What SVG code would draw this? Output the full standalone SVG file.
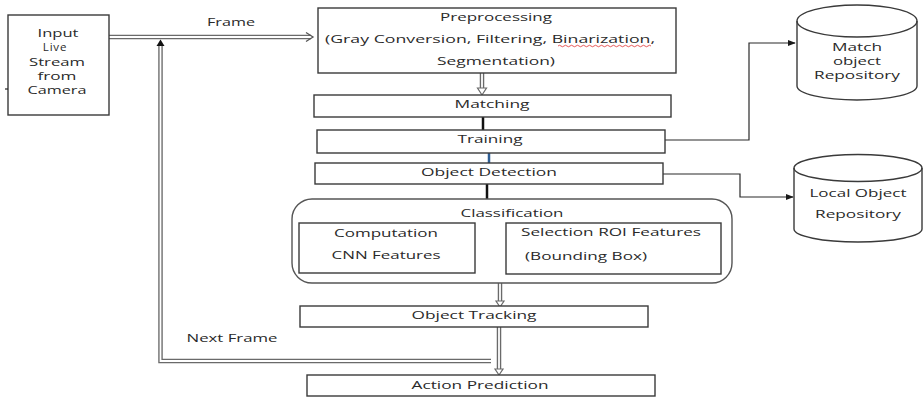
<svg xmlns="http://www.w3.org/2000/svg" width="924" height="398" viewBox="0 0 924 398">
<defs>
<style>
text{font-family:"Open Sans","Liberation Sans",sans-serif;font-size:10.8px;fill:#2a2a2a;text-anchor:middle;}
.l{text-anchor:start;}
.box{fill:#fff;stroke:#3a3a3a;stroke-width:1.4;}
.dblo{fill:none;stroke:#6a6a6a;stroke-width:4.5;}
.dbli{fill:none;stroke:#fff;stroke-width:1.8;}
.thin{fill:none;stroke:#2a2a2a;stroke-width:1.2;}
.hollow{fill:#fff;stroke:#6a6a6a;stroke-width:1.2;}
</style>
<marker id="ah" viewBox="0 0 10 10" refX="9" refY="5" markerWidth="8" markerHeight="8" markerUnits="userSpaceOnUse" orient="auto">
<path d="M0,1 L10,5 L0,9 Z" fill="#1a1a1a"/>
</marker>
<marker id="ahb" viewBox="0 0 10 10" refX="9" refY="5" markerWidth="6" markerHeight="6" markerUnits="userSpaceOnUse" orient="auto">
<path d="M0,1 L10,5 L0,9 Z" fill="#1f3a5f"/>
</marker>
</defs>
<rect width="924" height="398" fill="#fff"/>

<g id="connectors">
<!-- Frame -->
<path class="dblo" d="M109,37 H311"/>
<path class="dbli" d="M109,37 H312"/>
<polyline points="306,32.5 313,37 306,41.5" fill="none" stroke="#555" stroke-width="1.3"/>
<text x="231" y="26" textLength="48" lengthAdjust="spacingAndGlyphs">Frame</text>
<!-- feedback Next Frame -->
<path class="dblo" d="M160.5,45 V361 H491"/>
<path class="dbli" d="M160.5,45 V361 H491"/>
<path d="M156.5,46 L160.5,39.5 L164.5,46 Z" fill="#111"/>
<text x="232" y="342" textLength="91" lengthAdjust="spacingAndGlyphs">Next Frame</text>
<!-- Preprocessing -> Matching -->
<path class="dblo" d="M482,73 V88"/>
<path class="dbli" d="M482,73 V89"/>
<path class="hollow" d="M477.5,88 L486.5,88 L482,95 Z"/>
<!-- Matching -> Training -->
<path d="M483,117 V130" stroke="#111" stroke-width="2.5"/>
<!-- Training -> Object Detection -->
<path d="M489,153 V163" stroke="#2f5f95" stroke-width="2.5"/>
<!-- Object Detection -> Classification -->
<path d="M487,184 V199" stroke="#111" stroke-width="2.5"/>
<!-- Training -> Match repository -->
<polyline class="thin" points="665,140 749,140 749,43 795,43" marker-end="url(#ah)"/>
<!-- Object Detection -> Local repository -->
<polyline class="thin" points="663,174 740,174 740,197 793,197" marker-end="url(#ah)"/>
<!-- Computation -> Selection -->
<path d="M475,239 H505" stroke="#1f3a5f" stroke-width="1.5" fill="none" marker-end="url(#ahb)"/>
<!-- Classification -> Object Tracking -->
<path class="dblo" d="M500,282 V302"/>
<path class="dbli" d="M500,282 V303"/>
<path class="hollow" d="M496,301 L504,301 L500,307 Z"/>
<!-- Object Tracking -> Action Prediction -->
<path class="dblo" d="M499,327 V369"/>
<path class="dbli" d="M499,327 V370"/>
<path class="hollow" d="M495,369 L503,369 L499,375 Z"/>
</g>

<g id="input">
<rect class="box" x="8" y="15" width="101" height="100"/>
<line x1="5" y1="89" x2="8" y2="89" stroke="#222" stroke-width="1.2"/>
<text x="58" y="37" textLength="41" lengthAdjust="spacingAndGlyphs">Input</text>
<text x="55" y="51" style="font-size:11.5px;letter-spacing:0.8px">Live</text>
<text x="57" y="66" textLength="56" lengthAdjust="spacingAndGlyphs">Stream</text>
<text x="57" y="80" textLength="39" lengthAdjust="spacingAndGlyphs">from</text>
<text x="57" y="94" textLength="59" lengthAdjust="spacingAndGlyphs">Camera</text>
</g>

<g id="preprocessing">
<rect class="box" x="318" y="8" width="358" height="65"/>
<text x="496" y="21" textLength="112" lengthAdjust="spacingAndGlyphs">Preprocessing</text>
<text x="490" y="43" textLength="330" lengthAdjust="spacingAndGlyphs">(Gray Conversion, Filtering, Binarization,</text>
<path d="M558,46 q1.5,-1.5 3,0 t3,0 t3,0 t3,0 t3,0 t3,0 t3,0 t3,0 t3,0 t3,0 t3,0 t3,0 t3,0 t3,0 t3,0 t3,0 t3,0 t3,0 t3,0 t3,0 t3,0 t3,0 t3,0 t3,0 t3,0 t3,0 t3,0 t3,0 t3,0 t3,0 t3,0" fill="none" stroke="#e03030" stroke-width="0.8"/>
<text x="496" y="65" textLength="118" lengthAdjust="spacingAndGlyphs">Segmentation)</text>
</g>

<g id="matching">
<rect class="box" x="314" y="95" width="357" height="22"/>
<text x="492" y="108" textLength="75" lengthAdjust="spacingAndGlyphs">Matching</text>
</g>

<g id="training">
<rect class="box" x="317" y="130" width="348" height="23"/>
<text x="490" y="143" textLength="65" lengthAdjust="spacingAndGlyphs">Training</text>
</g>

<g id="object-detection">
<rect class="box" x="315" y="163" width="348" height="21"/>
<text x="489" y="176" textLength="136" lengthAdjust="spacingAndGlyphs">Object Detection</text>
</g>

<g id="match-repository">
<path class="box" d="M797,21 A60,16 0 0 1 917,21 V86 A60,14 0 0 1 797,86 Z"/>
<path d="M797,21 A60,16 0 0 0 917,21" fill="none" stroke="#3a3a3a" stroke-width="1.4"/>
<text x="857" y="51" textLength="50" lengthAdjust="spacingAndGlyphs">Match</text>
<text x="857" y="65" textLength="48" lengthAdjust="spacingAndGlyphs">object</text>
<text x="857" y="79" textLength="86" lengthAdjust="spacingAndGlyphs">Repository</text>
</g>

<g id="local-repository">
<path class="box" d="M794,168 A64,13.5 0 0 1 922,168 V229 A64,13 0 0 1 794,229 Z"/>
<path d="M794,168 A64,13.5 0 0 0 922,168" fill="none" stroke="#3a3a3a" stroke-width="1.4"/>
<text x="858" y="197" textLength="97" lengthAdjust="spacingAndGlyphs">Local Object</text>
<text x="858" y="218" textLength="86" lengthAdjust="spacingAndGlyphs">Repository</text>
</g>

<g id="classification">
<rect class="box" x="292" y="199" width="440" height="84" rx="20" ry="20" style="stroke:#555"/>
<text x="512" y="217" textLength="103" lengthAdjust="spacingAndGlyphs">Classification</text>
</g>

<g id="computation">
<rect class="box" x="299" y="223" width="176" height="50"/>
<text x="386" y="237" textLength="104" lengthAdjust="spacingAndGlyphs">Computation</text>
<text x="386" y="259" textLength="109" lengthAdjust="spacingAndGlyphs">CNN Features</text>
</g>

<g id="selection">
<rect class="box" x="506" y="223" width="215" height="51"/>
<text class="l" x="521" y="236" textLength="180" lengthAdjust="spacingAndGlyphs">Selection ROI Features</text>
<text class="l" x="525" y="260" textLength="122" lengthAdjust="spacingAndGlyphs">(Bounding Box)</text>
</g>

<g id="object-tracking">
<rect class="box" x="300" y="306" width="348" height="21"/>
<text x="474" y="319" textLength="125" lengthAdjust="spacingAndGlyphs">Object Tracking</text>
</g>

<g id="action-prediction">
<rect class="box" x="307" y="375" width="348" height="21"/>
<text x="480" y="389" textLength="137" lengthAdjust="spacingAndGlyphs">Action Prediction</text>
</g>
</svg>
